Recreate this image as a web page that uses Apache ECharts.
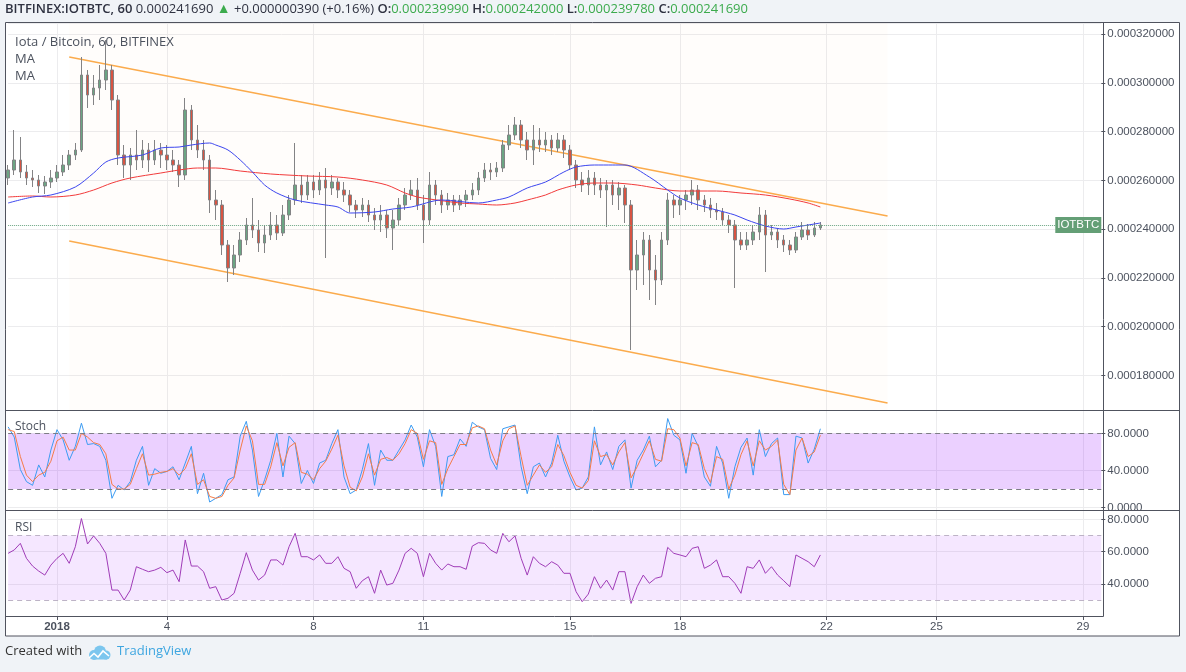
<!DOCTYPE html>
<html>
<head>
<meta charset="utf-8">
<title>IOTBTC 60</title>
<script src="https://cdn.jsdelivr.net/npm/echarts@6.0.0/dist/echarts.min.js"></script>
<style>
  html, body { margin: 0; padding: 0; background: #f0f3f7; }
  #main { width: 1186px; height: 672px; }
</style>
</head>
<body>
<div id="main"></div>
<script type="text/javascript">
// 4-hour slots from 2017-12-30 16:00 UTC, prices in satoshi (1e-8 BTC)
var startTime = Date.UTC(2017, 11, 30, 16);
var stepHours = 4;
var slotCount = 180;
var tickDays = [1, 4, 8, 11, 15, 18, 22, 25, 29];

var opens = [26096,26424,26834,26342,26096,26014,25768,25932,26096,26342,
  26629,27039,27244,30319,29499,29786,30114,30524,29294,27039,
  26629,27039,26834,27244,26834,27244,27039,26834,26629,26219,
  28884,27654,27244,26834,25194,24989,23349,22406,22939,23554,
  24169,23964,23431,23759,24169,23841,24579,25194,25809,25399,
  25932,25604,26014,25686,25932,25604,25399,24989,24784,24989,
  24579,24374,24579,24046,24374,24989,25399,25604,24989,24374,
  25809,25399,24989,25194,24989,25194,25399,25604,26096,26424,
  26342,26506,27449,27859,28269,27654,27244,27654,27449,27654,
  27326,27654,27244,26629,26014,25809,26096,25809,25604,25809,
  25399,25686,24989,22324,22939,23554,22324,21914,23554,25194,
  24989,25194,25399,25604,25194,24989,24784,24702,24374,24169,
  23554,23349,23554,23882,24579,23759,23882,23554,23349,23144,
  23677,23964,23759,24046];
var closes = [26424,26834,26342,26096,26014,25768,25932,26096,26342,26629,
  27039,27244,30319,29499,29786,30114,30524,29294,27039,26629,
  27039,26834,27244,26834,27244,27039,26834,26629,26219,28884,
  27654,27244,26834,25194,24989,23349,22406,22939,23554,24169,
  23964,23431,23759,24169,23841,24579,25194,25809,25399,25932,
  25604,26014,25686,25932,25604,25399,24989,24784,24989,24579,
  24374,24579,24046,24374,24989,25399,25604,24989,24374,25809,
  25399,24989,25194,24989,25194,25399,25604,26096,26424,26342,
  26506,27449,27859,28269,27654,27244,27654,27449,27654,27326,
  27654,27244,26629,26014,25809,26096,25809,25604,25809,25399,
  25686,24989,22324,22939,23554,22324,21914,23554,25194,24989,
  25194,25399,25604,25194,24989,24784,24702,24374,24169,23554,
  23349,23554,23882,24579,23759,23882,23554,23349,23144,23677,
  23964,23759,24046,24169];
var lows = [25809,26219,26096,25809,25727,25481,25440,25686,25932,26178,
  26424,26834,27162,28966,29089,29294,29704,28884,26629,26096,
  26014,26424,26506,26342,26629,26506,26424,26342,25727,26014,
  27244,26916,26424,24661,24374,22939,21832,22119,22652,23349,
  23636,23062,23021,23554,23554,23718,24374,24989,25071,25194,
  25276,25399,22816,25399,25276,25112,24702,24456,24497,24292,
  23964,23882,23636,23144,24169,24784,25194,24784,23431,24169,
  24989,24661,24784,24702,24784,24907,25194,25399,25932,26014,
  26137,26342,27244,27654,27326,26834,26629,27162,27162,27039,
  27162,26916,26424,25686,25522,25399,25399,25276,24087,24989,
  24784,24251,19044,21504,21709,21094,20889,21709,23349,24456,
  24579,24784,24989,24784,24702,24456,24374,24169,23841,21586,
  23144,23144,23349,23554,22242,23554,23226,23062,22939,23021,
  23554,23554,23677,23964];
var highs = [26629,28064,27777,26629,26424,26219,26178,26424,26629,27039,
  27244,27531,31057,30524,30319,30729,31754,30729,29499,27449,
  27326,28064,27654,27531,27654,27531,27449,27244,26834,29376,
  29089,28269,27654,27039,25604,25194,23554,23349,23882,24456,
  25276,24374,24169,24702,24579,24989,25399,27531,26219,26219,
  26219,26342,26506,26219,26096,25932,25604,25194,25276,25194,
  24866,24989,24784,24784,25276,25686,26014,26096,25399,26342,
  26014,25604,25481,25399,25399,25604,25891,26342,26711,26711,
  26752,27654,28269,28597,28474,27982,28269,28146,27982,27859,
  27941,27859,27449,26834,26342,26424,26342,26096,26014,26014,
  25932,25809,25194,23554,23882,23759,22939,23882,25481,25399,
  25399,25604,26014,25809,25399,25276,25071,24866,24579,24374,
  23882,23882,24169,24907,24784,24169,24046,23759,23554,23882,
  24292,24210,24292,24292];

// moving averages, read at selected slots
var maFastAt = [0,4,7,11,14,16,18,22,25,28,30,33,34,36,38,40,42,44,47,52,
  54,56,60,63,66,71,77,80,82,85,88,91,93,96,99,101,105,108,110,113,
  116,119,121,124,127,129,132,133];
var maFast = [25071,25317,25399,25727,26301,26752,26916,27039,27326,27367,
  27449,27531,27449,27244,26834,26342,25809,25481,25194,24989,
  24907,24661,24702,24825,24907,25194,25071,25194,25317,25686,
  25932,26342,26547,26629,26629,26629,26137,25604,25276,24989,
  24784,24579,24374,24128,24005,24087,24210,24251];
var maSlowAt = [0,4,7,11,14,17,20,25,28,31,34,38,43,49,54,58,62,65,67,69,
  74,77,80,83,85,88,90,93,96,99,103,106,110,116,120,124,128,131,133];
var maSlow = [25317,25358,25317,25399,25604,25891,26096,26301,26424,26506,
  26506,26383,26260,26178,26137,26014,25809,25481,25317,25235,
  25071,25030,24989,25071,25194,25399,25604,25809,25891,25891,
  25809,25686,25563,25563,25481,25399,25235,25071,24907];

// descending channel: slot index and price at both ends
var channelAt = [10, 144];
var channelUpper = [31057, 24538];
var channelLower = [23513, 16871];

var stochK = [87,76,41,28,24,46,33,62,84,73,
  51,66,91,68,69,66,51,10,24,19,
  28,51,66,24,42,37,39,44,30,48,
  66,15,37,6,10,14,30,33,77,93,
  62,12,30,51,80,33,77,69,26,40,
  26,48,51,69,84,33,15,19,41,69,
  24,62,51,51,62,73,89,76,44,84,
  66,12,55,57,74,66,92,87,84,53,
  41,85,87,89,44,15,44,48,33,48,
  78,50,33,19,21,33,87,46,60,41,
  66,73,21,51,62,77,44,51,96,78,
  73,37,80,66,33,23,66,48,10,44,
  65,75,35,84,55,69,75,14,14,77,
  75,48,63,85];
var stochD = [84,82,55,35,28,35,38,50,72,76,
  62,62,80,76,70,68,58,25,20,20,
  25,42,58,35,36,38,39,42,35,42,
  58,25,30,12,10,12,24,32,62,88,
  72,25,25,44,70,45,65,70,38,36,
  30,42,50,63,78,45,22,18,33,58,
  35,52,54,51,58,69,84,80,52,72,
  70,25,42,55,68,68,86,88,85,62,
  46,72,85,88,55,24,35,46,38,44,
  68,56,38,24,21,29,72,55,57,46,
  60,70,32,44,58,72,52,50,85,84,
  75,45,70,68,42,27,55,52,20,35,
  57,72,45,72,62,66,73,25,14,62,
  75,55,60,78];
var rsi = [58.9,61,65.1,55.8,51,47.9,45.4,51.6,55.8,58.9,
  52.7,63,80.5,64.7,69.7,65.1,58.9,36.1,36.1,29.9,
  36.1,50.6,49,47.5,48.5,50.2,46.9,48.5,41.3,67.2,
  51,51,47.5,37.2,38.2,29.9,31,34.1,46.5,59.3,
  48.5,42.3,45.4,54.8,54.8,51.6,63,71.3,56.8,56.8,
  54.8,57.9,52.7,52.7,56.8,49.6,47.5,37.2,41.9,44.4,
  34.1,48.5,39.2,40.3,48.5,58.9,62,58.9,44.4,58.9,
  52.7,48.5,52.3,50.6,50.6,49,63.4,65.5,65.1,61,
  58.9,71.3,66.1,69.7,55.8,45.4,56.8,52.7,50.6,53.7,
  51.6,46.5,46.5,35.1,28.9,33.6,44.4,37.2,42.3,36.1,
  47.5,47.5,27.8,38.2,45.4,40.3,43.4,44.4,62.6,58.9,
  57.9,56.8,62,63,49.6,51.6,54.8,44.4,44.4,40.3,
  34.1,50.6,49.6,54.8,46.5,50.6,45.4,41.9,38.2,57.9,
  55.8,53.7,50.6,57.9];

var categories = [];
for (var k = 0; k < slotCount; k++) {
  var d = new Date(startTime + k * stepHours * 3600 * 1000);
  categories.push(d.toISOString().slice(0, 16).replace('T', ' '));
}
function isTick(index, value) {
  return value.slice(5, 7) === '01' && value.slice(11) === '00:00' &&
    tickDays.indexOf(+value.slice(8, 10)) >= 0;
}
function pairs(at, vals) {
  return at.map(function (i, n) { return [i, vals[n]]; });
}

var candles = opens.map(function (o, n) { return [o, closes[n], lows[n], highs[n]]; });
var lastClose = closes[closes.length - 1];

var gridLeft = 8.14, gridWidth = 1093.15;
var gridColor = '#ececee';
var lineDark = '#50535e';
var labelColor = '#4c525e';
var axisFont = 'Liberation Sans, Arial, sans-serif';
var uiFont = 'Open Sans, sans-serif';
var pageBg = '#f0f3f7';

function xAxisFor(gridIndex, showLabels) {
  return {
    type: 'category', gridIndex: gridIndex, data: categories, boundaryGap: false,
    axisLine: { show: false },
    axisTick: { show: showLabels, interval: isTick, length: 4, lineStyle: { color: lineDark } },
    axisLabel: {
      show: showLabels, interval: isTick, margin: 5, color: labelColor, fontSize: 11.5, fontFamily: axisFont,
      formatter: function (value) {
        var day = +value.slice(8, 10);
        return day === 1 ? '{y|2018}' : String(day);
      },
      rich: { y: { fontWeight: 'bold', fontSize: 11.5, color: labelColor, fontFamily: axisFont } }
    },
    splitLine: { show: true, interval: isTick, lineStyle: { color: gridColor } }
  };
}
function yAxisFor(gridIndex, min, max, step, splitNumber) {
  return {
    type: 'value', gridIndex: gridIndex, position: 'right', min: min, max: max,
    minInterval: step, maxInterval: step, splitNumber: splitNumber,
    axisLine: { show: false },
    axisTick: { show: true, length: 4, lineStyle: { color: lineDark } },
    axisLabel: {
      margin: 6, color: labelColor, fontSize: 11.5, fontFamily: axisFont,
      showMinLabel: false, showMaxLabel: false,
      formatter: function (v) {
        if (Math.abs(v % step) > 1e-6) return '';
        return gridIndex === 0 ? (v / 1e8).toFixed(9) : v.toFixed(4);
      }
    },
    splitLine: { show: true, lineStyle: { color: gridColor } }
  };
}

var myChart = echarts.init(document.getElementById('main'));
myChart.setOption({
  animation: false,
  backgroundColor: '#ffffff',
  grid: [
    { left: gridLeft, width: gridWidth, top: 23, height: 387 },
    { left: gridLeft, width: gridWidth, top: 410, height: 100 },
    { left: gridLeft, width: gridWidth, top: 510, height: 106 }
  ],
  xAxis: [xAxisFor(0, false), xAxisFor(1, false), xAxisFor(2, true)],
  yAxis: [
    yAxisFor(0, 16584, 32451, 2000, 8),
    yAxisFor(1, -2.6, 105.2, 40, 3),
    yAxisFor(2, 20, 85.8, 20, 3)
  ],
  series: [
    {
      name: 'channel top', type: 'line', xAxisIndex: 0, yAxisIndex: 0,
      data: pairs(channelAt, channelUpper), symbol: 'none',
      lineStyle: { color: '#fbab4c', width: 1.5 }, z: 1,
      markArea: {
        silent: true,
        itemStyle: { color: 'rgba(245, 160, 70, 0.022)' },
        data: [[{ xAxis: channelAt[0] }, { xAxis: channelAt[1] }]]
      }
    },
    {
      name: 'channel bottom', type: 'line', xAxisIndex: 0, yAxisIndex: 0,
      data: pairs(channelAt, channelLower), symbol: 'none',
      lineStyle: { color: '#fbab4c', width: 1.5 }, z: 1
    },
    {
      name: 'MA slow', type: 'line', xAxisIndex: 0, yAxisIndex: 0,
      data: pairs(maSlowAt, maSlow), symbol: 'none', smooth: 0.3,
      lineStyle: { color: '#f23b3b', width: 1 }, z: 3
    },
    {
      name: 'MA fast', type: 'line', xAxisIndex: 0, yAxisIndex: 0,
      data: pairs(maFastAt, maFast), symbol: 'none', smooth: 0.3,
      lineStyle: { color: '#3c46ef', width: 1 }, z: 3
    },
    {
      name: 'IOTBTC', type: 'candlestick', xAxisIndex: 0, yAxisIndex: 0,
      data: candles, barWidth: 3,
      itemStyle: {
        color: '#6ba583', color0: '#d75442',
        borderColor: '#838385', borderColor0: '#838385', borderWidth: 1
      },
      markLine: {
        silent: true, symbol: 'none',
        lineStyle: { color: '#6ba583', type: 'dotted', width: 1 },
        label: { show: false },
        data: [{ yAxis: lastClose }]
      },
      markPoint: {
        silent: true,
        symbol: 'rect', symbolSize: [46, 16], symbolOffset: [-23, 0],
        itemStyle: { color: '#649f76' },
        label: { show: true, formatter: 'IOTBTC', color: '#ffffff', fontSize: 11.5, fontFamily: axisFont },
        data: [{ coord: [slotCount - 1, lastClose] }]
      },
      z: 2
    },
    {
      name: '%K', type: 'line', xAxisIndex: 1, yAxisIndex: 1,
      data: stochK, symbol: 'none', lineStyle: { color: '#3d9cf2', width: 1 },
      markArea: {
        silent: true,
        itemStyle: { color: 'rgba(153, 21, 255, 0.2)' },
        data: [[{ yAxis: 20 }, { yAxis: 80 }]]
      },
      markLine: {
        silent: true, symbol: 'none', label: { show: false },
        lineStyle: { color: '#7d7d85', type: [5, 4], width: 1 },
        data: [{ yAxis: 80 }, { yAxis: 20 }]
      }
    },
    {
      name: '%D', type: 'line', xAxisIndex: 1, yAxisIndex: 1,
      data: stochD, symbol: 'none', lineStyle: { color: '#f57c48', width: 1 }
    },
    {
      name: 'RSI', type: 'line', xAxisIndex: 2, yAxisIndex: 2,
      data: rsi, symbol: 'none', lineStyle: { color: '#a03cb8', width: 1 },
      markArea: {
        silent: true,
        itemStyle: { color: 'rgba(153, 21, 255, 0.1)' },
        data: [[{ yAxis: 30 }, { yAxis: 70 }]]
      },
      markLine: {
        silent: true, symbol: 'none', label: { show: false },
        lineStyle: { color: '#bdb3c6', type: [5, 4], width: 1 },
        data: [{ yAxis: 70 }, { yAxis: 30 }]
      }
    }
  ],
  graphic: [
    // page background around the chart frame
    { type: 'rect', z: 50, shape: { x: 0, y: 0, width: 1186, height: 22.5 }, style: { fill: pageBg } },
    { type: 'rect', z: 50, shape: { x: 0, y: 0, width: 5.5, height: 672 }, style: { fill: pageBg } },
    { type: 'rect', z: 50, shape: { x: 1179.5, y: 0, width: 6.5, height: 672 }, style: { fill: pageBg } },
    { type: 'rect', z: 50, shape: { x: 0, y: 636, width: 1186, height: 36 }, style: { fill: pageBg } },
    // cut the stoch zero label at the pane border
    { type: 'rect', z: 50, shape: { x: 1104, y: 510.5, width: 75, height: 3 }, style: { fill: '#ffffff' } },
    // frame and pane separators
    { type: 'rect', z: 51, shape: { x: 5.5, y: 22.5, width: 1174, height: 613.5 }, style: { fill: null, stroke: lineDark, lineWidth: 1 } },
    { type: 'line', z: 51, shape: { x1: 5.5, y1: 410.5, x2: 1179.5, y2: 410.5 }, style: { stroke: lineDark, lineWidth: 1 } },
    { type: 'line', z: 51, shape: { x1: 5.5, y1: 510.5, x2: 1179.5, y2: 510.5 }, style: { stroke: lineDark, lineWidth: 1 } },
    { type: 'line', z: 51, shape: { x1: 5.5, y1: 616.5, x2: 1103.5, y2: 616.5 }, style: { stroke: lineDark, lineWidth: 1 } },
    { type: 'line', z: 51, shape: { x1: 1103.5, y1: 22.5, x2: 1103.5, y2: 616.5 }, style: { stroke: lineDark, lineWidth: 1 } },
    // header
    {
      type: 'text', z: 52, left: 5, top: 2,
      style: {
        text: '{t|BITFINEX:IOTBTC, 60} {n|0.000241690} {g|▲} {n|+0.000000390 (+0.16%)} {k|O:}{v|0.000239990} {k|H:}{v|0.000242000} {k|L:}{v|0.000239780} {k|C:}{v|0.000241690}',
        rich: {
          t: { fontFamily: uiFont, fontSize: 13, fontWeight: 600, fill: '#2f3241' },
          n: { fontFamily: uiFont, fontSize: 13, fill: '#2f3241' },
          g: { fontFamily: uiFont, fontSize: 14, fill: '#3cab4d' },
          k: { fontFamily: uiFont, fontSize: 13, fontWeight: 600, fill: '#2f3241' },
          v: { fontFamily: uiFont, fontSize: 13, fill: '#3cab4d' }
        }
      }
    },
    // pane titles
    { type: 'text', z: 52, left: 15, top: 36, style: { text: 'Iota / Bitcoin, 60, BITFINEX', font: '13px ' + uiFont, fill: '#4c525e' } },
    { type: 'text', z: 52, left: 15, top: 53, style: { text: 'MA', font: '13px ' + uiFont, fill: '#4c525e' } },
    { type: 'text', z: 52, left: 15, top: 70, style: { text: 'MA', font: '13px ' + uiFont, fill: '#4c525e' } },
    { type: 'text', z: 52, left: 15, top: 421, style: { text: 'Stoch', font: '12px ' + uiFont, fill: '#4c525e' } },
    { type: 'text', z: 52, left: 15, top: 522, style: { text: 'RSI', font: '12px ' + uiFont, fill: '#4c525e' } },
    // credits
    { type: 'text', z: 52, left: 5, top: 645, style: { text: 'Created with', font: '13px ' + uiFont, fill: '#333333' } },
    {
      type: 'group', x: 87, y: 645,
      children: [
        { type: 'circle', z: 52, shape: { cx: 7, cy: 10, r: 5 }, style: { fill: '#7cc6ee' } },
        { type: 'circle', z: 52, shape: { cx: 13, cy: 6.5, r: 6 }, style: { fill: '#7cc6ee' } },
        { type: 'circle', z: 52, shape: { cx: 19, cy: 10, r: 4.5 }, style: { fill: '#7cc6ee' } },
        { type: 'rect', z: 52, shape: { x: 6, y: 9, width: 14, height: 5.5 }, style: { fill: '#7cc6ee' } },
        { type: 'polyline', z: 53, shape: { points: [[2, 13], [7, 8.5], [11, 12], [16, 6], [22, 11]] }, style: { stroke: '#ffffff', lineWidth: 1.6, fill: null } }
      ]
    },
    { type: 'text', z: 52, left: 117, top: 645, style: { text: 'TradingView', font: '13px ' + uiFont, fill: '#3ea6e0' } }
  ]
});
</script>
</body>
</html>
